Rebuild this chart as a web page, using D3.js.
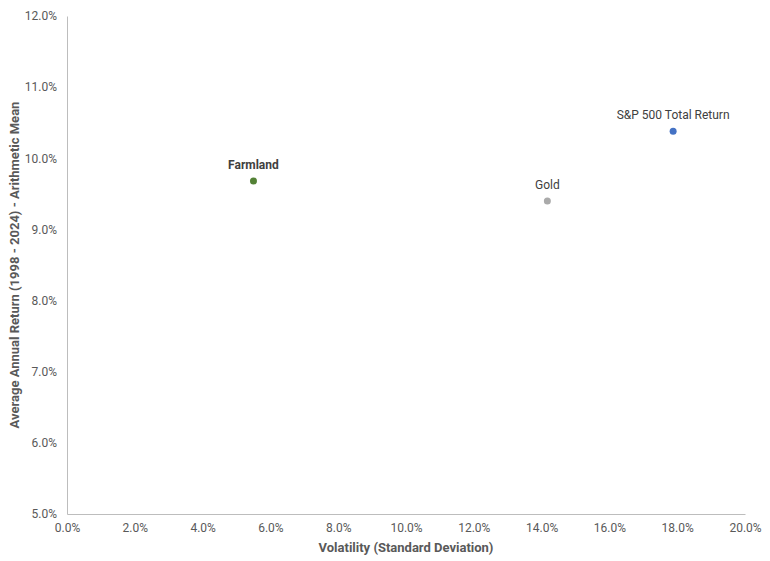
<!DOCTYPE html>
<html>
<head>
<meta charset="utf-8">
<script src="https://cdn.jsdelivr.net/npm/d3@7"></script>
<style>
  body { margin: 0; background: #fff; }
  text { font-family: Roboto, "Open Sans", sans-serif; }
</style>
</head>
<body>
<div id="chart"></div>
<script>
// chart values
var assets = ["Farmland", "Gold", "S&P 500 Total Return"];
var volatility = [5.5, 14.17, 17.88];
var avgReturn = [9.68, 9.40, 10.38];
var dotColors = ["#538135", "#aaaaaa", "#4472c4"];
var labelWeight = ["bold", "normal", "normal"];
var xTicks = [0, 2, 4, 6, 8, 10, 12, 14, 16, 18, 20];
var yTicks = [5, 6, 7, 8, 9, 10, 11, 12];

var W = 770, H = 561;
var margin = {top: 16, right: 25, bottom: 47, left: 67},
    width = W - margin.left - margin.right,
    height = H - margin.top - margin.bottom;

var svg = d3.select("#chart")
    .append("svg")
    .attr("width", W)
    .attr("height", H)
    .append("g")
    .attr("transform", "translate(" + margin.left + "," + margin.top + ")");

var x = d3.scaleLinear().domain([0, 20]).range([0, width]);
var y = d3.scaleLinear().domain([5, 12]).range([height, 0]);

var fmt = function (d) { return d.toFixed(1) + "%"; };

// x axis
var xAxis = svg.append("g")
    .attr("transform", "translate(0," + height + ")")
    .call(d3.axisBottom(x).tickValues(xTicks).tickFormat(fmt).tickSize(0).tickPadding(9));
xAxis.select(".domain").attr("stroke", "#bdbdbd");
xAxis.selectAll("text").attr("fill", "#595959").style("font-size", "12px");

// y axis
var yAxis = svg.append("g")
    .call(d3.axisLeft(y).tickValues(yTicks).tickFormat(fmt).tickSize(0).tickPadding(10));
yAxis.select(".domain").attr("stroke", "#bdbdbd");
yAxis.selectAll("text").attr("fill", "#595959").style("font-size", "12px");

// axis titles
svg.append("text")
    .attr("text-anchor", "middle")
    .attr("x", width / 2)
    .attr("y", height + 38)
    .attr("fill", "#595959")
    .style("font-size", "13px")
    .style("font-weight", "bold")
    .text("Volatility (Standard Deviation)");

svg.append("text")
    .attr("text-anchor", "middle")
    .attr("transform", "rotate(-90)")
    .attr("x", -height / 2)
    .attr("y", -margin.left + 19)
    .attr("fill", "#595959")
    .style("font-size", "13px")
    .style("font-weight", "bold")
    .text("Average Annual Return (1998 - 2024) - Arithmetic Mean");

// points
var pts = svg.append("g")
    .selectAll("g")
    .data(assets)
    .enter()
    .append("g");

pts.append("circle")
    .attr("cx", function (d, i) { return x(volatility[i]); })
    .attr("cy", function (d, i) { return y(avgReturn[i]); })
    .attr("r", 3.5)
    .style("fill", function (d, i) { return dotColors[i]; });

pts.append("text")
    .attr("x", function (d, i) { return x(volatility[i]); })
    .attr("y", function (d, i) { return y(avgReturn[i]) - 12; })
    .attr("text-anchor", "middle")
    .attr("fill", "#404040")
    .style("font-size", "12px")
    .style("font-weight", function (d, i) { return labelWeight[i]; })
    .text(function (d) { return d; });
</script>
</body>
</html>
